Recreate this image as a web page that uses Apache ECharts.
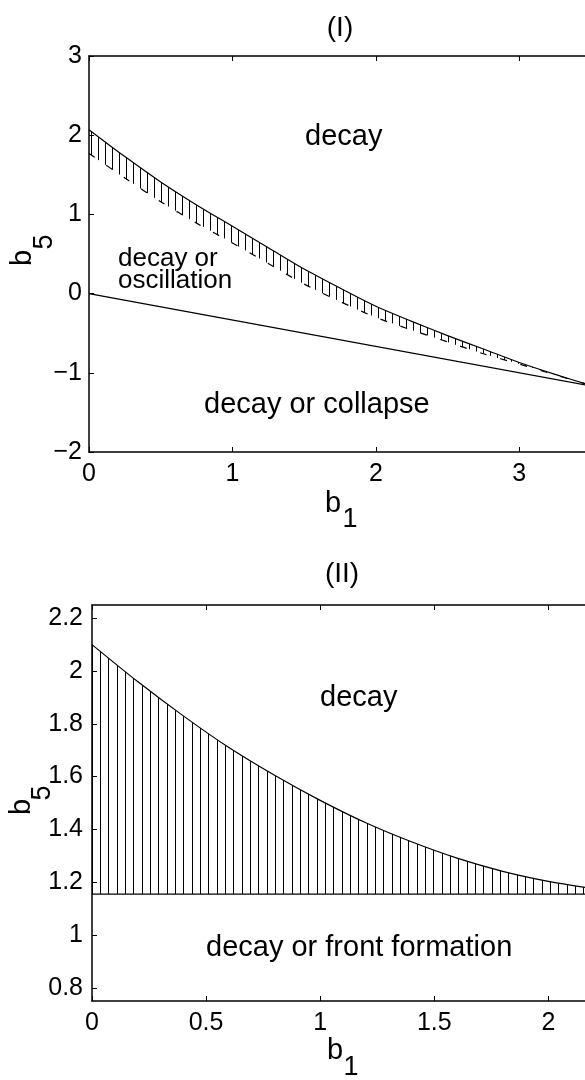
<!DOCTYPE html>
<html>
<head>
<meta charset="utf-8">
<script src="https://cdn.jsdelivr.net/npm/echarts@6/dist/echarts.min.js"></script>
<style>
  html, body { margin: 0; padding: 0; background: #fff; }
  #chart { width: 585px; height: 1080px; }
</style>
</head>
<body>
<div id="chart"></div>
<script>
// ---- Panel (I): stability boundaries in the (b1, b5) plane ----
const topB1 = [0, 0.25, 0.5, 0.75, 1, 1.25, 1.5, 1.75, 2, 2.25, 2.5, 2.75, 3, 3.25, 3.5];
const topUpperB5 = [2.07, 1.73, 1.41, 1.12, 0.85, 0.58, 0.31, 0.07, -0.16, -0.35, -0.53, -0.70, -0.87, -1.02, -1.16];
const topLowerB5 = [1.77, 1.46, 1.16, 0.89, 0.64, 0.38, 0.12, -0.10, -0.30, -0.46, -0.61, -0.76, -0.89, -1.026, -1.16];
const diagB1 = [0, 3.5];
const diagB5 = [0, -1.167];
const topXRange = [0, 3.5];
const topYRange = [-2, 3];

// ---- Panel (II) ----
const botB1 = [0, 0.2, 0.4, 0.6, 0.8, 1.0, 1.2, 1.4, 1.6, 1.8, 2.0, 2.2];
const botUpperB5 = [2.10, 1.96, 1.83, 1.71, 1.605, 1.51, 1.425, 1.353, 1.291, 1.241, 1.203, 1.175];
const frontB1 = [0, 2.2];
const frontB5 = [1.155, 1.155];
const botXRange = [0, 2.2];
const botYRange = [0.75, 2.25];

const FONT = '"Liberation Sans", Arial, Helvetica, sans-serif';
const TICK_SIZE = 25;

const pts = (xs, ys) => xs.map((x, i) => [x, ys[i]]);

// vertical-line hatch tile
function hatchTile(width, offsets) {
  const c = document.createElement('canvas');
  c.width = width; c.height = 4;
  const g = c.getContext('2d');
  g.fillStyle = '#000';
  offsets.forEach(o => g.fillRect(o, 0, 1, 4));
  return { image: c, repeat: 'repeat' };
}
const hatchTop = hatchTile(21, [0, 7, 14]);
const hatchBot = hatchTile(25, [0, 8, 17]);

const minus = v => (v < 0 ? '\u2212' + Math.abs(v) : String(v));

function xAxis(grid, range, interval, position, showLabels) {
  return {
    type: 'value', gridIndex: grid, position, min: range[0], max: range[1], interval,
    z: 10,
    axisLine: { onZero: false, lineStyle: { color: '#000', width: 1.5 } },
    axisTick: { show: true, inside: true, length: 5, lineStyle: { color: '#000', width: 1 } },
    axisLabel: { show: showLabels, color: '#000', fontSize: TICK_SIZE, fontFamily: FONT, margin: 10,
                 showMaxLabel: false },
    splitLine: { show: false }
  };
}

const chart = echarts.init(document.getElementById('chart'), null, { renderer: 'canvas' });

const lineBase = { type: 'line', showSymbol: false, symbol: 'none', silent: true, animation: false };

function txt(text, x, y, size, opts) {
  return Object.assign({
    type: 'text', x, y, z: 100,
    style: Object.assign({ text, font: size + 'px ' + FONT, fill: '#000', align: 'left', verticalAlign: 'middle' },
                         (opts && opts.style) || {})
  }, (opts && opts.el) || {});
}
const center = { style: { align: 'center' } };
const vert = { style: { align: 'center' }, el: { rotation: Math.PI / 2 } };

chart.setOption({
  backgroundColor: '#fff',
  animation: false,
  grid: [
    { left: 89, top: 56, width: 502, height: 396, outerBoundsMode: 'none', containLabel: false },
    { left: 92, top: 605, width: 502, height: 396, outerBoundsMode: 'none', containLabel: false }
  ],
  xAxis: [
    xAxis(0, topXRange, 1, 'bottom', true),
    xAxis(0, topXRange, 1, 'top', false),
    xAxis(1, botXRange, 0.5, 'bottom', true),
    xAxis(1, botXRange, 0.5, 'top', false)
  ],
  yAxis: [
    {
      type: 'value', gridIndex: 0, position: 'left', min: topYRange[0], max: topYRange[1], interval: 1,
      z: 10,
      axisLine: { onZero: false, lineStyle: { color: '#000', width: 1.5 } },
      axisTick: { show: true, inside: true, length: 5, lineStyle: { color: '#000', width: 1 } },
      axisLabel: { color: '#000', fontSize: TICK_SIZE, fontFamily: FONT, margin: 7, formatter: minus },
      splitLine: { show: false }
    },
    {
      type: 'value', gridIndex: 1, position: 'left', min: botYRange[0], max: botYRange[1], splitNumber: 7,
      z: 10,
      axisLine: { onZero: false, lineStyle: { color: '#000', width: 1.5 } },
      axisTick: { show: true, inside: true, length: 5, lineStyle: { color: '#000', width: 1 } },
      axisLabel: { color: '#000', fontSize: TICK_SIZE, fontFamily: FONT, margin: 9,
                   showMinLabel: false, showMaxLabel: false },
      splitLine: { show: false }
    }
  ],
  series: [
    // panel (I): hatched band between the two curves
    Object.assign({}, lineBase, {
      name: 'band', xAxisIndex: 0, yAxisIndex: 0, z: 1, smooth: 0.3,
      data: pts(topB1, topUpperB5),
      lineStyle: { opacity: 0 },
      areaStyle: { color: hatchTop, opacity: 1, origin: 'start' }
    }),
    Object.assign({}, lineBase, {
      name: 'bandMask', xAxisIndex: 0, yAxisIndex: 0, z: 2, smooth: 0.3,
      data: pts(topB1, topLowerB5),
      lineStyle: { opacity: 0 },
      areaStyle: { color: '#fff', opacity: 1, origin: 'start' }
    }),
    Object.assign({}, lineBase, {
      name: 'bandLower', xAxisIndex: 0, yAxisIndex: 0, z: 3, smooth: 0.3,
      data: pts(topB1, topLowerB5),
      lineStyle: { color: '#000', width: 1.2, type: [7, 14] }
    }),
    Object.assign({}, lineBase, {
      name: 'bandUpper', xAxisIndex: 0, yAxisIndex: 0, z: 3, smooth: 0.3,
      data: pts(topB1, topUpperB5),
      lineStyle: { color: '#000', width: 1.2 }
    }),
    Object.assign({}, lineBase, {
      name: 'collapse', xAxisIndex: 0, yAxisIndex: 0, z: 3,
      data: pts(diagB1, diagB5),
      lineStyle: { color: '#000', width: 1.2 }
    }),
    // panel (II)
    Object.assign({}, lineBase, {
      name: 'decayBound', xAxisIndex: 2, yAxisIndex: 1, z: 3, smooth: 0.3,
      data: pts(botB1, botUpperB5),
      lineStyle: { color: '#000', width: 1.2 },
      areaStyle: { color: hatchBot, opacity: 1, origin: frontB5[0] }
    }),
    Object.assign({}, lineBase, {
      name: 'front', xAxisIndex: 2, yAxisIndex: 1, z: 3,
      data: pts(frontB1, frontB5),
      lineStyle: { color: '#000', width: 1.2 }
    })
  ],
  graphic: [
    txt('(I)', 340, 28, 28, center),
    txt('decay', 305, 137, 29),
    txt('decay or\noscillation', 118, 270, 26, { style: { lineHeight: 22 } }),
    txt('decay or collapse', 204, 405, 29),
    txt('b', 333, 504, 29, center),
    txt('1', 350, 520, 27, center),
    txt('b', 23, 258, 29, vert),
    txt('5', 45, 242, 27, vert),

    txt('(II)', 342, 574, 28, center),
    txt('decay', 320, 698, 29),
    txt('decay or front formation', 206, 948, 29),
    txt('b', 335, 1051, 29, center),
    txt('1', 351, 1068, 27, center),
    txt('b', 22, 807, 29, vert),
    txt('5', 43, 793, 27, vert)
  ]
});
</script>
</body>
</html>
